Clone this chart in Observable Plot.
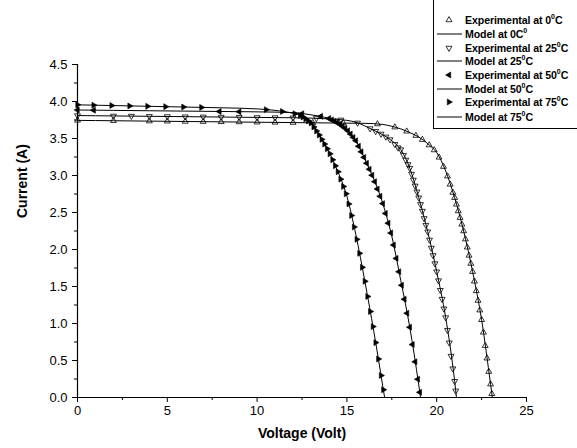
<!DOCTYPE html>
<html>
<head>
<meta charset="utf-8">
<script src="https://cdn.jsdelivr.net/npm/d3@7"></script>
<script src="https://cdn.jsdelivr.net/npm/@observablehq/plot@0.6"></script>
<style>
  body { margin: 0; background: #fff; }
  #wrap { position: relative; width: 577px; height: 448px; overflow: hidden;
          font-family: "Liberation Sans", Arial, sans-serif; }
  #legend { position: absolute; left: 433px; top: -1px; width: 170px; height: 130px;
            border: 1px solid #000; box-sizing: border-box; background: #fff; }
  .row { position: absolute; left: 0; height: 14px; width: 170px; }
  .row svg { position: absolute; left: 2px; top: 0; }
  .row span { position: absolute; left: 31px; top: 0; line-height: 14px; font-weight: bold;
              font-size: 10.6px; letter-spacing: -0.1px; white-space: nowrap; color: #000; }
  .row sup { font-size: 7px; vertical-align: 5px; line-height: 0; letter-spacing: 0; }
</style>
</head>
<body>
<div id="wrap"><div id="legend"></div></div>
<script>
// Axis ticks
const xMajor = [0, 5, 10, 15, 20, 25];
const xMinor = [2.5, 7.5, 12.5, 17.5, 22.5];
const yMajor = [0, 0.5, 1, 1.5, 2, 2.5, 3, 3.5, 4, 4.5];
const yMinor = [0.25, 0.75, 1.25, 1.75, 2.25, 2.75, 3.25, 3.75, 4.25];

// Measured I–V points [voltage, current]
const exp0 = [[0,3.745],[2,3.74],[4,3.735],[5,3.733],[6,3.73],[7,3.728],[8,3.725],[9,3.723],[10,3.72],
  [11,3.718],[12,3.715],[13.1,3.712],[14.8,3.708],[16.7,3.695],[17.67,3.653],[18.33,3.597],[18.84,3.539],
  [19.2,3.484],[19.58,3.411],[19.86,3.344],[20.13,3.245],[20.38,3.12],[20.6,2.99],[20.75,2.88],[20.9,2.77],
  [21.0,2.70],[21.1,2.61],[21.2,2.52],[21.3,2.43],[21.4,2.34],[21.5,2.25],[21.6,2.14],[21.7,2.03],[21.8,1.92],
  [21.9,1.81],[22.0,1.70],[22.1,1.57],[22.2,1.44],[22.3,1.31],[22.4,1.18],[22.5,1.05],[22.6,0.88],[22.7,0.70],
  [22.8,0.53],[22.9,0.35],[23.0,0.18],[23.07,0.05]];
const exp25 = [[0,3.81],[2,3.805],[3,3.803],[4,3.80],[5,3.798],[6,3.795],[7,3.793],[8,3.79],[9,3.788],
  [10,3.785],[11,3.783],[12,3.78],[13.3,3.772],[14.66,3.752],[15.59,3.711],[16.29,3.635],[16.6,3.598],
  [16.9,3.562],[17.17,3.523],[17.4,3.486],[17.67,3.422],[17.85,3.376],[18.0,3.35],[18.15,3.275],[18.28,3.21],
  [18.4,3.15],[18.5,3.10],[18.6,3.02],[18.7,2.94],[18.8,2.86],[18.9,2.78],[19.0,2.70],[19.1,2.61],[19.2,2.52],
  [19.3,2.42],[19.4,2.33],[19.5,2.24],[19.6,2.13],[19.7,2.02],[19.8,1.92],[19.9,1.81],[20.0,1.70],[20.1,1.58],
  [20.2,1.45],[20.3,1.33],[20.4,1.20],[20.5,1.08],[20.6,0.91],[20.7,0.74],[20.8,0.56],[20.9,0.39],[21.0,0.22],
  [21.06,0.09]];
const exp50 = [[0,3.885],[0.9,3.882],[7.9,3.865],[9.0,3.862],[12.5,3.835],[13.55,3.80],[14.0,3.77],
  [14.15,3.752],[14.3,3.734],[14.45,3.716],[14.6,3.692],[14.75,3.665],[14.9,3.638],[15.05,3.605],[15.2,3.56],
  [15.35,3.515],[15.5,3.47],[15.65,3.395],[15.8,3.32],[15.95,3.245],[16.1,3.166],[16.25,3.085],[16.4,3.004],
  [16.55,2.917],[16.7,2.818],[16.85,2.719],[17.0,2.62],[17.15,2.488],[17.3,2.356],[17.45,2.224],[17.6,2.06],
  [17.75,1.88],[17.9,1.70],[18.05,1.517],[18.2,1.328],[18.35,1.139],[18.5,0.95],[18.65,0.716],[18.8,0.482],
  [18.95,0.248],[19.06,0.07]];
const exp75 = [[0,3.955],[0.9,3.95],[1.9,3.945],[2.9,3.94],[3.9,3.935],[4.9,3.93],[5.9,3.925],[6.9,3.92],
  [10.5,3.89],[11.4,3.865],[12.1,3.835],[12.4,3.81],[12.55,3.79],[12.7,3.764],[12.85,3.737],[13.0,3.71],
  [13.15,3.656],[13.3,3.602],[13.45,3.548],[13.6,3.488],[13.75,3.425],[13.9,3.362],[14.05,3.293],[14.2,3.212],
  [14.35,3.131],[14.5,3.05],[14.65,2.951],[14.8,2.852],[14.95,2.753],[15.1,2.616],[15.25,2.46],[15.4,2.304],
  [15.55,2.137],[15.7,1.948],[15.85,1.759],[16.0,1.57],[16.15,1.366],[16.3,1.162],[16.45,0.958],[16.6,0.742],
  [16.75,0.52],[16.9,0.298],[17.03,0.105]];

// Model I–V curves [voltage, current]
const model0 = [[0,3.745],[2,3.74],[4,3.735],[6,3.73],[8,3.725],[10,3.72],[12,3.715],[14,3.71],[16,3.705],
  [17,3.69],[17.5,3.665],[18,3.63],[18.5,3.58],[19,3.52],[19.5,3.43],[20,3.31],[20.5,3.06],[21,2.70],
  [21.5,2.25],[22,1.70],[22.5,1.05],[23,0.18],[23.1,0]];
const model25 = [[0,3.81],[2,3.805],[4,3.80],[6,3.795],[8,3.79],[10,3.785],[12,3.78],[13,3.775],[14,3.765],
  [15,3.745],[15.5,3.72],[16,3.67],[16.5,3.61],[17,3.55],[17.5,3.47],[18,3.35],[18.5,3.10],[19,2.70],
  [19.5,2.24],[20,1.70],[20.5,1.08],[21,0.22],[21.1,0]];
const model50 = [[0,3.885],[2,3.88],[4,3.875],[6,3.87],[8,3.865],[10,3.86],[12,3.85],[13,3.82],[13.5,3.80],
  [14,3.77],[14.5,3.71],[15,3.62],[15.5,3.47],[16,3.22],[16.5,2.95],[17,2.62],[17.5,2.18],[18,1.58],
  [18.5,0.95],[19,0.17],[19.1,0]];
const model75 = [[0,3.955],[2,3.945],[4,3.935],[6,3.925],[8,3.915],[10,3.90],[11,3.88],[12,3.84],[12.5,3.80],
  [13,3.71],[13.5,3.53],[14,3.32],[14.5,3.05],[15,2.72],[15.5,2.20],[16,1.57],[16.5,0.89],[17,0.15],[17.1,0]];

// Triangle marker pointing in a given direction (degrees clockwise from up)
const SQRT3 = Math.sqrt(3);
function triangle(angle) {
  return {
    draw(context, size) {
      const y = -Math.sqrt(size / (SQRT3 * 3));
      const pts = [[0, y * 2], [-SQRT3 * y, -y], [SQRT3 * y, -y]];
      const a = angle * Math.PI / 180, c = Math.cos(a), s = Math.sin(a);
      pts.forEach(([px, py], i) => {
        const X = px * c - py * s, Y = px * s + py * c;
        if (i) context.lineTo(X, Y); else context.moveTo(X, Y);
      });
      context.closePath();
    }
  };
}
const triUp = triangle(0), triDown = triangle(180), triLeft = triangle(-90), triRight = triangle(90);

const series = [
  {exp: exp0, model: model0, symbol: triUp, filled: false, expLabel: ["Experimental at 0", "0", "C"], modelLabel: ["Model at 0C", "0", ""]},
  {exp: exp25, model: model25, symbol: triDown, filled: false, expLabel: ["Experimental at 25", "0", "C"], modelLabel: ["Model at 25", "0", "C"]},
  {exp: exp50, model: model50, symbol: triLeft, filled: true, expLabel: ["Experimental at 50", "0", "C"], modelLabel: ["Model at 50", "0", "C"]},
  {exp: exp75, model: model75, symbol: triRight, filled: true, expLabel: ["Experimental at 75", "0", "C"], modelLabel: ["Model at 75", "0", "C"]}
];

const R = 2.2;
const lineMarks = series.map(s => Plot.line(s.model, {
  x: d => d[0], y: d => d[1], stroke: "#000", strokeWidth: 1, curve: "monotone-x"
}));
const dotMarks = series.map(s => Plot.dot(s.exp, {
  x: d => d[0], y: d => d[1], symbol: s.symbol, r: R,
  fill: s.filled ? "#000" : "none", stroke: "#000", strokeWidth: s.filled ? 0.6 : 0.8
}));

const chart = Plot.plot({
  width: 577, height: 448,
  marginLeft: 77, marginRight: 51, marginTop: 64, marginBottom: 51,
  x: {domain: [0, 25]},
  y: {domain: [0, 4.5]},
  style: {fontFamily: "'Liberation Sans', Arial, sans-serif", fontSize: "13px", color: "#000", background: "#fff"},
  marks: [
    Plot.axisX(xMajor, {tickSize: 5, tickPadding: 3, tickFormat: d => String(d), label: null}),
    Plot.axisX(xMinor, {tickSize: 3, tickFormat: () => "", label: null}),
    Plot.axisY(yMajor, {tickSize: 5, tickPadding: 5, tickFormat: d => d.toFixed(1), label: null}),
    Plot.axisY(yMinor, {tickSize: 3, tickFormat: () => "", label: null}),
    Plot.ruleX([0], {stroke: "#000", strokeWidth: 1.2}),
    Plot.ruleY([0], {stroke: "#000", strokeWidth: 1.2}),
    ...lineMarks,
    ...dotMarks,
    Plot.text(["Voltage (Volt)"], {frameAnchor: "bottom", dy: 40, fontWeight: "bold", fontSize: 14}),
    Plot.text(["Current (A)"], {frameAnchor: "left", dx: -55, dy: -13, rotate: -90, fontWeight: "bold", fontSize: 14})
  ]
});
document.getElementById("wrap").prepend(chart);

// Legend rows: experimental marker, then model line, for each temperature
const legend = document.getElementById("legend");
const rowY = [13, 26.5, 40.5, 54, 68, 81.5, 95, 109.5];
let k = 0;
series.forEach(s => {
  [["exp", s.expLabel], ["model", s.modelLabel]].forEach(([kind, label]) => {
    const row = document.createElement("div");
    row.className = "row";
    row.style.top = rowY[k++] + "px";
    const svg = d3.create("svg").attr("width", 28).attr("height", 14);
    if (kind === "exp") {
      const p = d3.path();
      s.symbol.draw(p, R * R * Math.PI);
      svg.append("path").attr("d", p.toString()).attr("transform", "translate(13,7)")
        .attr("fill", s.filled ? "#000" : "none").attr("stroke", "#000")
        .attr("stroke-width", s.filled ? 0.6 : 0.8);
    } else {
      svg.append("line").attr("x1", 1).attr("x2", 26).attr("y1", 7).attr("y2", 7)
        .attr("stroke", "#000").attr("stroke-width", 1);
    }
    row.appendChild(svg.node());
    const span = document.createElement("span");
    span.append(label[0]);
    if (label[1]) { const sup = document.createElement("sup"); sup.textContent = label[1]; span.append(sup); }
    span.append(label[2]);
    row.appendChild(span);
    legend.appendChild(row);
  });
});
</script>
</body>
</html>
